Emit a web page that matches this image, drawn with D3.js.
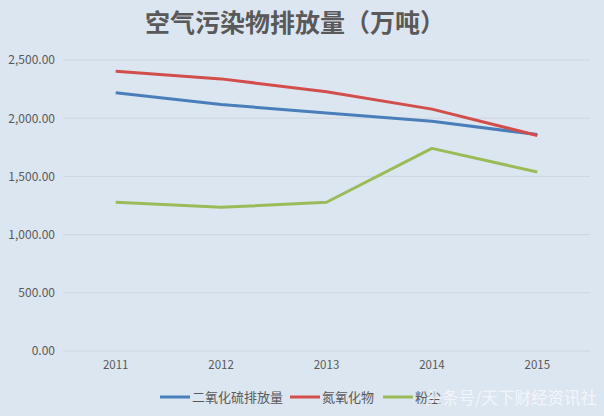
<!DOCTYPE html>
<html>
<head>
<meta charset="utf-8">
<script src="https://cdn.jsdelivr.net/npm/d3@7"></script>
<style>
  body { margin: 0; background: #dce6f0; }
  svg { display: block; }
</style>
</head>
<body>
<script>
// Data
const years = ["2011", "2012", "2013", "2014", "2015"];
const so2 = [2217.9, 2117.6, 2043.9, 1974.4, 1859.1];
const nox = [2404.3, 2337.8, 2227.4, 2078.0, 1851.9];
const dust = [1278.8, 1234.3, 1278.1, 1740.8, 1538.0];
const seriesNames = ["二氧化硫排放量", "氮氧化物", "粉尘"];
const yTicks = [0, 500, 1000, 1500, 2000, 2500];

const WIDTH = 604;
const HEIGHT = 416;
const FONT = "'Noto Sans CJK SC', 'Noto Sans', sans-serif";
const COLORS = ["#4a7ebb", "#d24e4b", "#9bbb59"];

const svg = d3.select("body").append("svg")
  .attr("width", WIDTH)
  .attr("height", HEIGHT);

svg.append("rect")
  .attr("width", WIDTH)
  .attr("height", HEIGHT)
  .attr("fill", "#dce6f0");

// Scales
const x = d3.scaleBand()
  .domain(years)
  .range([63, 590]);

const y = d3.scaleLinear()
  .domain([0, 2500])
  .range([351, 60]);

// Gridlines
svg.append("g")
  .selectAll("line")
  .data(yTicks)
  .join("line")
  .attr("x1", 63)
  .attr("x2", 590)
  .attr("y1", d => y(d))
  .attr("y2", d => y(d))
  .attr("stroke", "#cdd6df")
  .attr("stroke-width", 1);

// Y axis labels
const yAxis = d3.axisLeft(y)
  .tickValues(yTicks)
  .tickFormat(d3.format(",.2f"))
  .tickSize(0)
  .tickPadding(8);

svg.append("g")
  .attr("transform", "translate(63,0)")
  .call(yAxis)
  .call(g => g.select(".domain").remove())
  .selectAll("text")
  .attr("font-family", FONT)
  .attr("font-size", 12)
  .attr("fill", "#595959");

// X axis labels
const xAxis = d3.axisBottom(x)
  .tickSize(0)
  .tickPadding(10);

svg.append("g")
  .attr("transform", `translate(0,${y(0)})`)
  .call(xAxis)
  .call(g => g.select(".domain").remove())
  .selectAll("text")
  .attr("font-family", FONT)
  .attr("font-size", 11.5)
  .attr("fill", "#595959");

// Lines
const line = d3.line()
  .x((d, i) => x(years[i]) + x.bandwidth() / 2)
  .y(d => y(d));

[so2, nox, dust].forEach((values, i) => {
  svg.append("path")
    .datum(values)
    .attr("fill", "none")
    .attr("stroke", COLORS[i])
    .attr("stroke-width", 3)
    .attr("stroke-linejoin", "round")
    .attr("d", line);
});

// Title
svg.append("text")
  .attr("x", 295)
  .attr("y", 32)
  .attr("text-anchor", "middle")
  .attr("font-family", FONT)
  .attr("font-size", 25)
  .attr("font-weight", "bold")
  .attr("fill", "#595959")
  .text("空气污染物排放量（万吨）");

// Legend
const legendX = [160, 290, 383];
const legend = svg.append("g");
seriesNames.forEach((name, i) => {
  legend.append("line")
    .attr("x1", legendX[i])
    .attr("x2", legendX[i] + 30)
    .attr("y1", 397)
    .attr("y2", 397)
    .attr("stroke", COLORS[i])
    .attr("stroke-width", 3);
  legend.append("text")
    .attr("x", legendX[i] + 32)
    .attr("y", 402)
    .attr("font-family", FONT)
    .attr("font-size", 13)
    .attr("fill", "#595959")
    .text(name);
});

// Watermark
svg.append("text")
  .attr("x", 597)
  .attr("y", 404)
  .attr("text-anchor", "end")
  .attr("font-family", FONT)
  .attr("font-size", 16.5)
  .attr("fill", "#ffffff")
  .attr("fill-opacity", 0.65)
  .text("头条号/天下财经资讯社");
</script>
</body>
</html>
